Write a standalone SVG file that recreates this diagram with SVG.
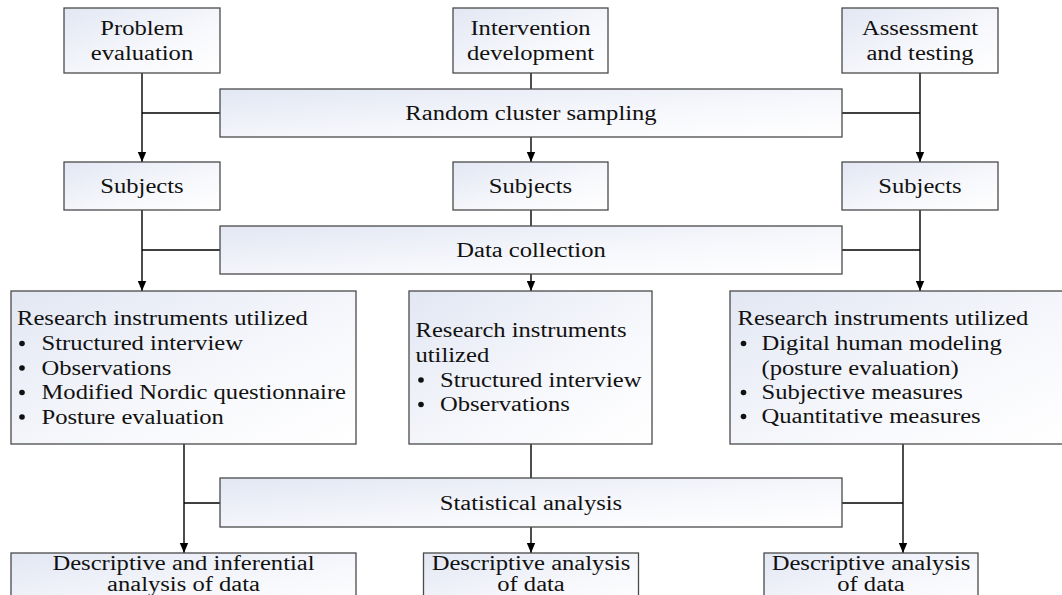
<svg xmlns="http://www.w3.org/2000/svg" width="1062" height="595" viewBox="0 0 1062 595">
  <defs>
    <linearGradient id="boxFill" x1="0" y1="0" x2="1" y2="1">
      <stop offset="0" stop-color="#e2e7f3"/>
      <stop offset="0.6" stop-color="#f7f8fc"/>
      <stop offset="1" stop-color="#ffffff"/>
    </linearGradient>
    <marker id="arrow" markerUnits="userSpaceOnUse" markerWidth="10" markerHeight="10" refX="10" refY="5" orient="auto">
      <path d="M0,0.8 L10,5 L0,9.2 Z" fill="#000"/>
    </marker>
  </defs>
  <style>
    .box { fill: url(#boxFill); stroke: #4a4a4a; stroke-width: 1.3; }
    .t { font-family: "Liberation Serif", "Times New Roman", serif; font-size: 20px; fill: #111; }
    .c { text-anchor: middle; }
    .dot { fill: #111; }
    .ln { fill: none; stroke: #000; stroke-width: 1.4; }
    .arr { marker-end: url(#arrow); }
  </style>
  <rect width="1062" height="595" fill="#ffffff"/>

  <!-- connectors -->
  <g id="connectors">
    <!-- stage 1: sampling -->
    <line class="ln arr" x1="142" y1="73" x2="142" y2="162"/>
    <line class="ln" x1="142" y1="113" x2="220" y2="113"/>
    <line class="ln" x1="531" y1="73" x2="531" y2="89"/>
    <line class="ln arr" x1="531" y1="137" x2="531" y2="162"/>
    <line class="ln arr" x1="920" y1="73" x2="920" y2="162"/>
    <line class="ln" x1="842" y1="113" x2="920" y2="113"/>
    <!-- stage 2: data collection -->
    <line class="ln arr" x1="142" y1="210" x2="142" y2="291"/>
    <line class="ln" x1="142" y1="250" x2="220" y2="250"/>
    <line class="ln" x1="531" y1="210" x2="531" y2="226"/>
    <line class="ln arr" x1="531" y1="274" x2="531" y2="291"/>
    <line class="ln arr" x1="920" y1="210" x2="920" y2="291"/>
    <line class="ln" x1="842" y1="250" x2="920" y2="250"/>
    <!-- stage 3: statistical analysis -->
    <line class="ln arr" x1="184" y1="444" x2="184" y2="553"/>
    <line class="ln" x1="184" y1="503" x2="220" y2="503"/>
    <line class="ln" x1="531" y1="444" x2="531" y2="478"/>
    <line class="ln arr" x1="531" y1="527" x2="531" y2="553"/>
    <line class="ln arr" x1="903" y1="444" x2="903" y2="553"/>
    <line class="ln" x1="842" y1="503" x2="903" y2="503"/>
  </g>

  <!-- top row -->
  <g id="problem-evaluation">
    <rect class="box" x="64" y="8" width="156" height="65"/>
    <text class="t c" transform="translate(142,35) scale(1.23,1)">Problem</text>
    <text class="t c" transform="translate(142,60) scale(1.23,1)">evaluation</text>
  </g>
  <g id="intervention-development">
    <rect class="box" x="453" y="8" width="155" height="65"/>
    <text class="t c" transform="translate(530.5,35) scale(1.23,1)">Intervention</text>
    <text class="t c" transform="translate(530.5,60) scale(1.23,1)">development</text>
  </g>
  <g id="assessment-testing">
    <rect class="box" x="842" y="8" width="156" height="65"/>
    <text class="t c" transform="translate(920,35) scale(1.23,1)">Assessment</text>
    <text class="t c" transform="translate(920,60) scale(1.23,1)">and testing</text>
  </g>

  <g id="random-cluster-sampling">
    <rect class="box" x="220" y="89" width="622" height="48"/>
    <text class="t c" transform="translate(531,120) scale(1.23,1)">Random cluster sampling</text>
  </g>

  <!-- subjects row -->
  <g id="subjects-1">
    <rect class="box" x="64" y="162" width="156" height="48"/>
    <text class="t c" transform="translate(142,193) scale(1.23,1)">Subjects</text>
  </g>
  <g id="subjects-2">
    <rect class="box" x="453" y="162" width="155" height="48"/>
    <text class="t c" transform="translate(530.5,193) scale(1.23,1)">Subjects</text>
  </g>
  <g id="subjects-3">
    <rect class="box" x="842" y="162" width="156" height="48"/>
    <text class="t c" transform="translate(920,193) scale(1.23,1)">Subjects</text>
  </g>

  <g id="data-collection">
    <rect class="box" x="220" y="226" width="622" height="48"/>
    <text class="t c" transform="translate(531,256.5) scale(1.23,1)">Data collection</text>
  </g>

  <!-- instruments row -->
  <g id="instruments-1">
    <rect class="box" x="11" y="291" width="345" height="153"/>
    <text class="t" transform="translate(17,325) scale(1.23,1)">Research instruments utilized</text>
    <circle class="dot" cx="22" cy="343.5" r="2.8"/>
    <text class="t" transform="translate(41.5,350) scale(1.23,1)">Structured interview</text>
    <circle class="dot" cx="22" cy="368" r="2.8"/>
    <text class="t" transform="translate(41.5,374.5) scale(1.23,1)">Observations</text>
    <circle class="dot" cx="22" cy="392.5" r="2.8"/>
    <text class="t" transform="translate(41.5,399) scale(1.23,1)">Modified Nordic questionnaire</text>
    <circle class="dot" cx="22" cy="417" r="2.8"/>
    <text class="t" transform="translate(41.5,423.5) scale(1.23,1)">Posture evaluation</text>
  </g>
  <g id="instruments-2">
    <rect class="box" x="409" y="291" width="243" height="153"/>
    <text class="t" transform="translate(415.5,337) scale(1.23,1)">Research instruments</text>
    <text class="t" transform="translate(415.5,361.5) scale(1.23,1)">utilized</text>
    <circle class="dot" cx="421" cy="380" r="2.8"/>
    <text class="t" transform="translate(440,386.5) scale(1.23,1)">Structured interview</text>
    <circle class="dot" cx="421" cy="404.5" r="2.8"/>
    <text class="t" transform="translate(440,411) scale(1.23,1)">Observations</text>
  </g>
  <g id="instruments-3">
    <rect class="box" x="730" y="291" width="340" height="153"/>
    <text class="t" transform="translate(737.5,325) scale(1.23,1)">Research instruments utilized</text>
    <circle class="dot" cx="743.5" cy="343.5" r="2.8"/>
    <text class="t" transform="translate(761.5,350) scale(1.23,1)">Digital human modeling</text>
    <text class="t" transform="translate(761.5,374.5) scale(1.23,1)">(posture evaluation)</text>
    <circle class="dot" cx="743.5" cy="392.5" r="2.8"/>
    <text class="t" transform="translate(761.5,399) scale(1.23,1)">Subjective measures</text>
    <circle class="dot" cx="743.5" cy="416.5" r="2.8"/>
    <text class="t" transform="translate(761.5,423) scale(1.23,1)">Quantitative measures</text>
  </g>

  <g id="statistical-analysis">
    <rect class="box" x="220" y="478" width="622" height="49"/>
    <text class="t c" transform="translate(531,509.5) scale(1.23,1)">Statistical analysis</text>
  </g>

  <!-- results row -->
  <g id="results-1">
    <rect class="box" x="11" y="553" width="345" height="60"/>
    <text class="t c" transform="translate(183.5,570) scale(1.23,1)">Descriptive and inferential</text>
    <text class="t c" transform="translate(183.5,591) scale(1.23,1)">analysis of data</text>
  </g>
  <g id="results-2">
    <rect class="box" x="423.5" y="553" width="215" height="60"/>
    <text class="t c" transform="translate(531,570) scale(1.23,1)">Descriptive analysis</text>
    <text class="t c" transform="translate(531,591) scale(1.23,1)">of data</text>
  </g>
  <g id="results-3">
    <rect class="box" x="764" y="553" width="214" height="60"/>
    <text class="t c" transform="translate(871,570) scale(1.23,1)">Descriptive analysis</text>
    <text class="t c" transform="translate(871,591) scale(1.23,1)">of data</text>
  </g>
</svg>
